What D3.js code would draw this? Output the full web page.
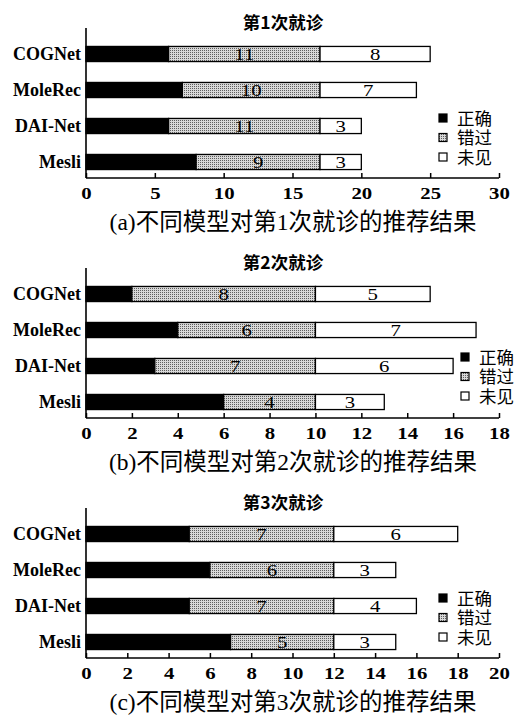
<!DOCTYPE html>
<html><head><meta charset="utf-8">
<script src="https://cdn.jsdelivr.net/npm/d3@7"></script>
<style>
html,body{margin:0;padding:0;background:#fff;}
svg{display:block;}
</style></head>
<body>
<svg id="chart" width="524" height="715"></svg>
<script>
const categories = ["COGNet", "MoleRec", "DAI-Net", "Mesli"];
const seriesNames = ["正确", "错过", "未见"];
const titles = ["第1次就诊", "第2次就诊", "第3次就诊"];
const captions = ["(a)不同模型对第1次就诊的推荐结果", "(b)不同模型对第2次就诊的推荐结果", "(c)不同模型对第3次就诊的推荐结果"];
// values per visit: [correct, missed, unseen] per category
const visit1 = [[6, 11, 8], [7, 10, 7], [6, 11, 3], [8, 9, 3]];
const visit2 = [[2, 8, 5], [4, 6, 7], [3, 7, 6], [6, 4, 3]];
const visit3 = [[5, 7, 6], [6, 6, 3], [5, 7, 4], [7, 5, 3]];
const xMax = [30, 18, 20];
const tickStep = [5, 2, 2];

const svg = d3.select("#chart");
const defs = svg.append("defs");
const pat = defs.append("pattern").attr("id", "dots").attr("patternUnits", "userSpaceOnUse")
  .attr("width", 2).attr("height", 2);
pat.append("rect").attr("width", 2).attr("height", 2).attr("fill", "#d8d8d8");
pat.append("rect").attr("width", 1).attr("height", 1).attr("fill", "#5e5e5e");

const fills = ["#000", "url(#dots)", "#fff"];
const serif = "'Liberation Serif','Times New Roman',serif";
const cjk = "'Liberation Serif','Noto Sans CJK SC',serif";

const panels = [
  {data: visit1, top: 0, legendX: 443},
  {data: visit2, top: 240, legendX: 465},
  {data: visit3, top: 480, legendX: 443}
];

panels.forEach((p, i) => {
  const g = svg.append("g").attr("transform", `translate(0,${p.top})`);
  const x = d3.scaleLinear().domain([0, xMax[i]]).range([86, 499]);
  const y = d3.scaleBand().domain(categories).range([36, 180]).paddingInner(0.58).paddingOuter(0.29);
  const axisY = 178;

  // title
  g.append("text").attr("x", 283).attr("y", 29).attr("text-anchor", "middle")
    .attr("font-family", "'Noto Sans CJK SC',sans-serif").attr("font-size", 17.5).attr("font-weight", 700)
    .text(titles[i]);

  // bars
  const rows = categories.map((c, k) => {
    let acc = 0;
    return p.data[k].map((v, s) => { const r = {cat: c, s, x0: acc, x1: acc + v, v}; acc += v; return r; });
  }).flat();

  g.selectAll("rect.seg").data(rows).join("rect").attr("class", "seg")
    .attr("x", d => x(d.x0)).attr("width", d => x(d.x1) - x(d.x0))
    .attr("y", d => y(d.cat)).attr("height", y.bandwidth())
    .attr("fill", d => fills[d.s]).attr("stroke", "#000").attr("stroke-width", 1.3);

  g.selectAll("text.val").data(rows.filter(d => d.s > 0)).join("text").attr("class", "val")
    .attr("transform", d => `translate(${x((d.x0 + d.x1) / 2)},${y(d.cat) + y.bandwidth() / 2 + 6}) scale(1.3,1)`)
    .attr("text-anchor", "middle").attr("font-family", serif).attr("font-size", 16)
    .text(d => d.v);

  // axes
  const xAxis = d3.axisBottom(x).tickValues(d3.range(0, xMax[i] + 0.001, tickStep[i]))
    .tickSize(-5).tickPadding(10).tickFormat(d3.format("d"));
  const ax = g.append("g").attr("transform", `translate(0,${axisY})`).call(xAxis);
  ax.select(".domain").attr("stroke", "#000").attr("stroke-width", 1.6).attr("d", `M${x(0)},0H${x(xMax[i])}`);
  ax.selectAll(".tick line").attr("stroke", "#000").attr("stroke-width", 1.5);
  ax.selectAll(".tick text").attr("font-family", serif).attr("font-size", 16).attr("font-weight", 700)
    .attr("fill", "#000").attr("transform", "scale(1.3,1)");

  const yAxis = d3.axisLeft(y).tickSize(0).tickPadding(5);
  const ay = g.append("g").attr("transform", `translate(86,0)`).call(yAxis);
  ay.select(".domain").attr("stroke", "#000").attr("stroke-width", 1.6).attr("d", `M0,28V${axisY}`);
  ay.selectAll(".tick text").attr("font-family", serif).attr("font-size", 18).attr("font-weight", 700).attr("fill", "#000");

  // legend
  const lg = g.append("g").attr("transform", `translate(${p.legendX},${i === 1 ? 117 : 118})`);
  seriesNames.forEach((n, s) => {
    const yy = s * 19.5;
    lg.append("rect").attr("x", -4).attr("y", yy - 4).attr("width", 8).attr("height", 8)
      .attr("fill", fills[s]).attr("stroke", "#000").attr("stroke-width", 1.2);
    lg.append("text").attr("x", 14).attr("y", yy + 6.5)
      .attr("font-family", "'Liberation Sans','Noto Sans CJK SC',sans-serif").attr("font-size", 17.5).text(n);
  });

  // caption
  g.append("text").attr("x", 293).attr("y", 230).attr("text-anchor", "middle")
    .attr("font-family", cjk).attr("font-size", 23.5).text(captions[i]);
});
</script>
</body></html>
